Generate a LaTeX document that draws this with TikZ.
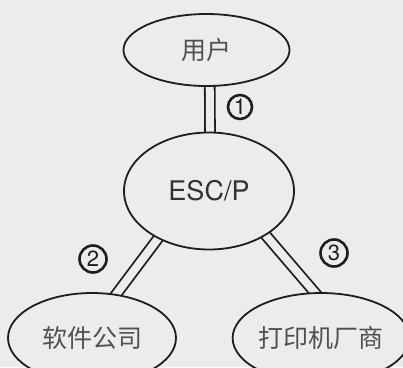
\documentclass[tikz,border=0pt]{standalone}
\usepackage{fontspec}
\setmainfont{TeX Gyre Heros}
\newfontfamily\cjk{Noto Sans CJK SC}
\usetikzlibrary{shapes.geometric}
\definecolor{bg}{RGB}{236,236,236}
\definecolor{ink}{RGB}{30,30,30}
\definecolor{txt}{RGB}{80,80,80}
\pgfdeclarelayer{backzero}
\pgfdeclarelayer{backone}
\pgfsetlayers{backzero,backone,main}
\begin{document}
\begin{tikzpicture}[x=1pt,y=-1pt,
  oval/.style={ellipse,draw=ink,line width=1.8pt,fill=bg,inner sep=0pt},
  cjklabel/.style={font=\cjk\fontsize{25}{30}\selectfont,text=txt},
  dbl/.style={draw=ink,double=bg,double distance=8pt,line width=1.8pt,shorten <=-5pt,shorten >=-5pt},
  num/.style={circle,draw=ink,line width=2.6pt,inner sep=0pt,font=\fontsize{22}{24}\selectfont,text=ink}]
\path[use as bounding box] (0,0) rectangle (403,367);
\begin{pgfonlayer}{backzero}
\fill[bg] (0,0) rectangle (403,367);
\end{pgfonlayer}
\node[oval,cjklabel,minimum width=166pt,minimum height=72pt] (user) at (206.5,50) {用户};
\node[oval,minimum width=170pt,minimum height=117pt,font=\fontsize{27}{30}\selectfont,text={rgb,255:red,50;green,50;blue,50}] (esc) at (209,191) {ESC/P};
\node[oval,cjklabel,minimum width=168pt,minimum height=90pt] (soft) at (92,338) {软件公司};
\node[oval,cjklabel,minimum width=162pt,minimum height=90pt] (vendor) at (321,338) {打印机厂商};
\begin{pgfonlayer}{backone}
\draw[dbl] (user.275.6) -- (esc.89);
\draw[dbl] (esc.223.2) -- (soft.61.8);
\draw[dbl] (esc.322.8) -- (vendor.98.3);
\end{pgfonlayer}
\node[num,minimum size=24pt] (n1) at (240,107) {1};
\node[num,minimum size=27pt] (n2) at (93,259) {2};
\node[num,minimum size=27pt] (n3) at (334,253) {3};
\end{tikzpicture}
\end{document}
